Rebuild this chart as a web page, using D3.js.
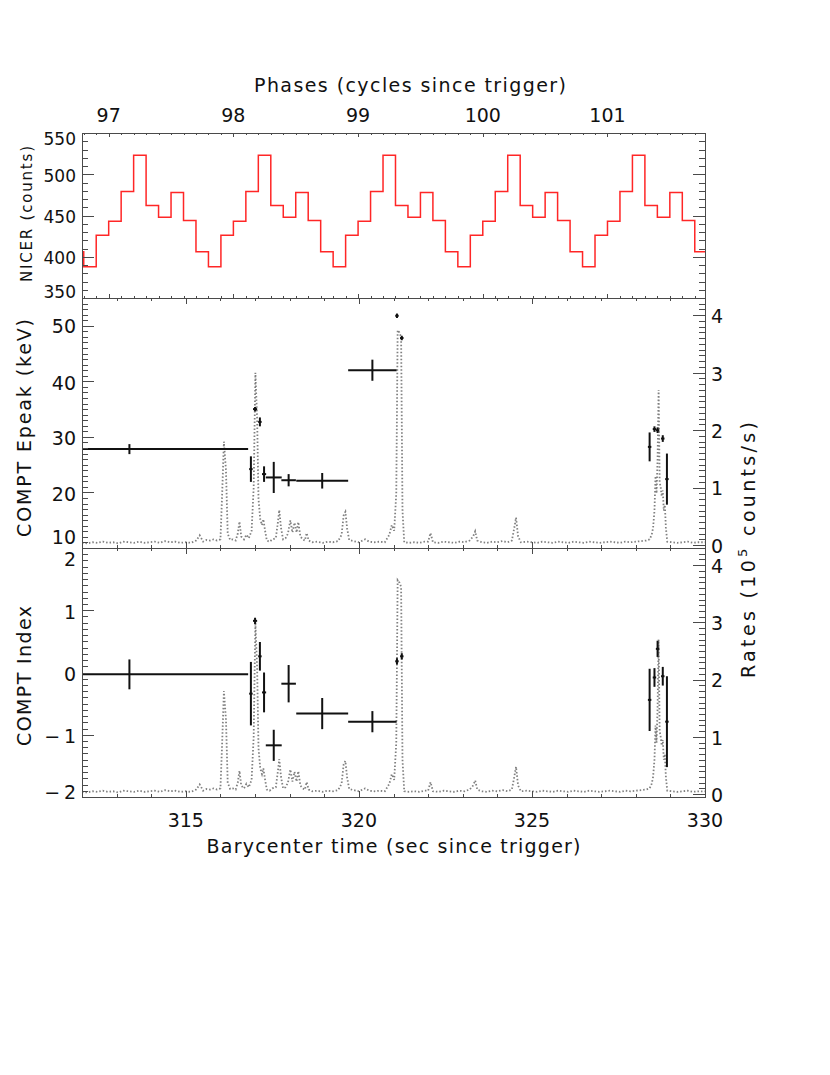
<!DOCTYPE html>
<html><head><meta charset="utf-8">
<script src="https://cdn.jsdelivr.net/npm/d3@7"></script>
<style>
body{margin:0;background:#fff}
text{font-family:"DejaVu Sans",sans-serif;fill:#111}
</style>
</head><body>
<svg id="c" width="830" height="1075"></svg>
<script>
// ---------------- data ----------------
const timeDomain = [312, 330];
const phaseDomain = [96.786, 101.782];
const timeLabels = [315, 320, 325, 330];
const phaseLabels = [97, 98, 99, 100, 101];
const nicerLabels = [550, 500, 450, 400, 350];
const epeakLabels = [50, 40, 30, 20, 10];
const indexLabels = [2, 1, 0, -1, -2];
const rateLabels = [4, 3, 2, 1, 0];

// NICER folded counts, bins of 0.1 cycle starting at phase 96.7
const nicerStart = 96.7;
const nicerCounts = [406,
  388, 426, 443, 479, 523, 462, 448, 478, 444, 406,
  388, 426, 443, 479, 523, 462, 448, 478, 444, 406,
  388, 426, 443, 479, 523, 462, 448, 478, 444, 406,
  388, 426, 443, 479, 523, 462, 448, 478, 444, 406,
  388, 426, 443, 479, 523, 462, 448, 478, 444, 406];

// spectral fit results
const specTime    = [313.37, 316.88, 317.00, 317.14, 317.26, 317.54, 317.97, 318.94, 320.39, 321.10, 321.24, 328.40, 328.54, 328.63, 328.78, 328.90];
const specTimeErr = [3.43, 0.05, 0.06, 0.05, 0.06, 0.23, 0.21, 0.75, 0.70, 0.05, 0.05, 0.05, 0.05, 0.05, 0.05, 0.05];
const epeak       = [27.8, 24.2, 35.0, 32.7, 23.3, 22.7, 22.2, 22.1, 42.0, 51.8, 47.8, 28.2, 31.4, 31.2, 29.7, 22.4];
const epeakErr    = [0.9, 2.3, 0.4, 0.8, 1.4, 2.8, 1.1, 1.4, 1.9, 0.4, 0.4, 2.6, 0.5, 0.5, 0.6, 4.6];
const index       = [-0.03, -0.34, 0.83, 0.26, -0.32, -1.17, -0.18, -0.66, -0.79, 0.18, 0.26, -0.44, -0.08, 0.38, -0.06, -0.79];
const indexErr    = [0.24, 0.51, 0.05, 0.23, 0.32, 0.25, 0.30, 0.25, 0.17, 0.05, 0.05, 0.50, 0.15, 0.13, 0.15, 0.73];

// light curve (10^5 counts/s)
const lcTime = [312.00,312.15,312.30,312.45,312.60,312.75,312.90,313.05,313.20,313.35,313.50,313.65,313.80,313.95,314.10,314.25,314.40,314.55,314.70,314.85,
 315.00,315.15,315.30,315.40,315.50,315.60,315.70,315.80,315.90,316.00,316.05,316.10,316.16,316.21,316.28,316.36,316.44,316.50,316.55,316.60,
 316.68,316.75,316.82,316.90,316.96,317.01,317.06,317.10,317.15,317.20,317.24,317.29,317.34,317.42,317.50,317.60,317.66,317.70,317.75,317.81,
 317.88,317.95,318.02,318.08,318.14,318.20,318.25,318.31,318.38,318.44,318.49,318.55,318.65,318.80,318.95,319.10,319.25,319.40,319.50,319.56,
 319.61,319.66,319.72,319.85,320.00,320.18,320.30,320.45,320.60,320.75,320.88,320.95,321.02,321.08,321.12,321.17,321.22,321.26,321.31,321.45,
 321.60,321.75,321.90,322.00,322.07,322.14,322.30,322.45,322.60,322.75,322.90,323.05,323.20,323.30,323.36,323.42,323.55,323.70,323.85,324.00,
 324.15,324.30,324.42,324.49,324.54,324.60,324.68,324.85,325.00,325.15,325.30,325.45,325.60,325.75,325.90,326.05,326.20,326.35,326.50,326.65,
 326.80,326.95,327.10,327.25,327.40,327.55,327.70,327.85,328.00,328.15,328.30,328.40,328.46,328.50,328.54,328.57,328.60,328.63,328.66,328.69,
 328.72,328.75,328.78,328.81,328.84,328.87,328.91,329.05,329.20,329.35,329.50,329.65,329.80,330.00];
const lcRate = [0.04,0.03,0.05,0.04,0.06,0.04,0.05,0.03,0.06,0.05,0.04,0.06,0.04,0.05,0.06,0.04,0.07,0.05,0.06,0.04,
 0.05,0.04,0.08,0.17,0.06,0.09,0.08,0.10,0.08,0.10,0.90,1.80,1.30,0.20,0.09,0.10,0.08,0.20,0.41,0.15,
 0.10,0.18,0.12,0.25,1.00,3.00,2.20,0.80,0.45,0.35,0.45,0.25,0.08,0.06,0.10,0.12,0.40,0.61,0.30,0.10,
 0.12,0.20,0.43,0.22,0.39,0.22,0.40,0.15,0.10,0.08,0.21,0.08,0.05,0.06,0.04,0.06,0.05,0.07,0.18,0.52,
 0.58,0.29,0.09,0.07,0.05,0.10,0.06,0.05,0.06,0.05,0.18,0.35,0.25,0.90,3.74,3.70,3.62,0.60,0.05,0.04,
 0.05,0.04,0.06,0.06,0.21,0.05,0.04,0.06,0.05,0.04,0.06,0.05,0.08,0.15,0.24,0.08,0.05,0.04,0.06,0.05,
 0.07,0.05,0.08,0.30,0.48,0.15,0.05,0.06,0.05,0.04,0.06,0.05,0.04,0.06,0.05,0.04,0.06,0.05,0.04,0.06,
 0.05,0.04,0.05,0.06,0.05,0.04,0.06,0.05,0.06,0.07,0.08,0.10,0.18,0.30,0.60,1.20,0.90,1.50,2.70,1.10,
 1.00,0.85,0.95,0.60,0.70,0.30,0.06,0.05,0.04,0.05,0.06,0.04,0.05,0.05];

// ---------------- drawing ----------------
const svg = d3.select("#c");
const L = 82, R = 705;
const top0 = 133, top1 = 298, mid1 = 548, bot1 = 797;

const x  = d3.scaleLinear().domain(timeDomain).range([L, R]);
const xp = d3.scaleLinear().domain(phaseDomain).range([L, R]);
const yN = d3.scaleLinear().domain([350, 550]).range([top1, top0]);
const yE = d3.scaleLinear().domain([10, 55]).range([mid1, top1]);
const yI = d3.scaleLinear().domain([-2, 2]).range([bot1, mid1]);
const yRm = d3.scaleLinear().domain([-0.05, 4.3]).range([mid1, top1]);
const yRb = d3.scaleLinear().domain([-0.05, 4.3]).range([bot1, mid1]);

const defs = svg.append("defs");
[["cTop", top0, top1], ["cMid", top1, mid1], ["cBot", mid1, bot1]].forEach(([id, a, b]) => {
  defs.append("clipPath").attr("id", id).append("rect")
    .attr("x", L).attr("y", a).attr("width", R - L).attr("height", b - a);
});

const AX = "#4a4a4a";
function tickSet(side, scale, values, len, pos) {
  const g = svg.append("g").attr("stroke", AX).attr("stroke-width", 1);
  g.selectAll("line").data(values).join("line").each(function (v) {
    const s = d3.select(this);
    const p = Math.round(scale(v)) + 0.5;
    if (side === "left")  s.attr("x1", L).attr("x2", L + len).attr("y1", p).attr("y2", p);
    if (side === "right") s.attr("x1", R).attr("x2", R - len).attr("y1", p).attr("y2", p);
    if (side === "top")   s.attr("y1", pos).attr("y2", pos + len).attr("x1", p).attr("x2", p);
    if (side === "bottom")s.attr("y1", pos).attr("y2", pos - len).attr("x1", p).attr("x2", p);
  });
}
const rng = (a, b, step) => d3.range(Math.round(a / step), Math.round(b / step) + 1).map(i => +(i * step).toFixed(4));

// ---- light curves (behind) ----
const lc = lcTime.map((t, i) => ({ t, r: lcRate[i] }));
[[yRm, "cMid"], [yRb, "cBot"]].forEach(([ys, clip]) => {
  svg.append("path").datum(lc).attr("clip-path", `url(#${clip})`)
    .attr("fill", "none").attr("stroke", "#808080").attr("stroke-width", 1.8)
    .attr("stroke-dasharray", "1.5,2")
    .attr("d", d3.line().x(d => x(d.t)).y(d => ys(d.r)));
});

// ---- NICER step curve ----
const steps = nicerCounts.map((c, i) => ({ p: nicerStart + i * 0.1, c }));
steps.push({ p: nicerStart + nicerCounts.length * 0.1, c: nicerCounts[nicerCounts.length - 1] });
svg.append("path").datum(steps).attr("clip-path", "url(#cTop)")
  .attr("fill", "none").attr("stroke", "#ff2626").attr("stroke-width", 1.5)
  .attr("d", d3.line().curve(d3.curveStepAfter).x(d => xp(d.p)).y(d => yN(d.c)));

// ---- error bars ----
function errBars(vals, errs, ys, clip) {
  const g = svg.append("g").attr("clip-path", `url(#${clip})`)
    .attr("stroke", "#111").attr("stroke-width", 2);
  const d = specTime.map((t, i) => ({ t, xe: specTimeErr[i], v: vals[i], e: errs[i] }));
  g.selectAll(".h").data(d).join("line")
    .attr("x1", p => x(p.t - p.xe)).attr("x2", p => x(p.t + p.xe))
    .attr("y1", p => ys(p.v)).attr("y2", p => ys(p.v));
  g.selectAll(".v").data(d).join("line")
    .attr("x1", p => x(p.t)).attr("x2", p => x(p.t))
    .attr("y1", p => ys(p.v - p.e)).attr("y2", p => ys(p.v + p.e));
}
errBars(epeak, epeakErr, yE, "cMid");
errBars(index, indexErr, yI, "cBot");

// ---- frames ----
[[top0, top1], [top1, mid1], [mid1, bot1]].forEach(([a, b]) => {
  svg.append("rect").attr("x", L + 0.5).attr("y", a + 0.5).attr("width", R - L).attr("height", b - a)
    .attr("fill", "none").attr("stroke", AX).attr("stroke-width", 1);
});

// ---- ticks ----
// top panel
tickSet("left", yN, rng(350, 550, 10), 6); tickSet("left", yN, rng(350, 550, 50), 12);
tickSet("right", yN, rng(350, 550, 10), 6); tickSet("right", yN, rng(350, 550, 50), 12);
const phMinor = rng(96.8, 101.7, 0.1), phMajor = phaseLabels;
tickSet("top", xp, phMinor, 2, top0); tickSet("top", xp, phMajor, 4, top0);
tickSet("bottom", xp, phMinor, 2, top1); tickSet("bottom", xp, phMajor, 4, top1);
// time ticks
const tMinor = rng(312, 330, 1), tMajor = timeLabels;
[[top1, "top"], [mid1, "bottom"], [mid1, "top"], [bot1, "bottom"]].forEach(([pos, side]) => {
  tickSet(side, x, tMinor, 3, pos); tickSet(side, x, tMajor, 6, pos);
});
// middle panel
tickSet("left", yE, rng(10, 55, 1), 6); tickSet("left", yE, rng(10, 50, 10), 12);
tickSet("right", yRm, rng(0, 4.3, 0.1), 6); tickSet("right", yRm, rng(0, 4, 1), 12);
// bottom panel
tickSet("left", yI, rng(-2, 2, 0.1), 6); tickSet("left", yI, rng(-2, 2, 1), 12);
tickSet("right", yRb, rng(0, 4.3, 0.1), 6); tickSet("right", yRb, rng(0, 4, 1), 12);

// ---- tick labels ----
const fmt = v => v < 0 ? "\u2212\u2009" + Math.abs(v) : String(v);
function yLabels(vals, scale, size, topShift, botShift) {
  svg.append("g").selectAll("text").data(vals).join("text")
    .attr("x", 76).attr("text-anchor", "end").attr("font-size", size)
    .attr("y", (v, i) => scale(v) + (i === 0 ? topShift : i === vals.length - 1 ? botShift : 1.5))
    .attr("dy", "0.36em").text(fmt);
}
yLabels(nicerLabels, yN, 17, 6, -6);
yLabels(epeakLabels, yE, 19, 0, -11);
yLabels(indexLabels, yI, 19, 11, -5);
[yRm, yRb].forEach(ys => {
  svg.append("g").selectAll("text").data(rateLabels).join("text")
    .attr("x", 711).attr("y", v => ys(v) + 1).attr("dy", "0.36em")
    .attr("font-size", 19).text(d => d);
});
svg.append("g").selectAll("text").data(timeLabels).join("text")
  .attr("x", d => x(d)).attr("y", 827).attr("text-anchor", "middle").attr("font-size", 19).text(d => d);
svg.append("g").selectAll("text").data(phaseLabels).join("text")
  .attr("x", d => xp(d)).attr("y", 122).attr("text-anchor", "middle").attr("font-size", 19).text(d => d);

// ---- axis titles ----
svg.append("text").attr("x", 410).attr("y", 92).attr("text-anchor", "middle").attr("font-size", 19)
  .attr("textLength", 312).text("Phases (cycles since trigger)");
svg.append("text").attr("x", 393.5).attr("y", 853).attr("text-anchor", "middle").attr("font-size", 19)
  .attr("textLength", 374).text("Barycenter time (sec since trigger)");
function vTitle(txt, cx, cy, size, len) {
  svg.append("text").attr("transform", `translate(${cx},${cy}) rotate(-90)`)
    .attr("text-anchor", "middle").attr("font-size", size).attr("textLength", len).text(txt);
}
vTitle("NICER (counts)", 32, 214, 15, 136);
vTitle("COMPT Epeak (keV)", 31, 428, 19, 218);
vTitle("COMPT Index", 31, 676, 19, 140);
const rt = svg.append("text").attr("transform", "translate(755,550) rotate(-90)")
  .attr("text-anchor", "middle").attr("font-size", 19).attr("textLength", 256);
rt.append("tspan").text("Rates (10");
rt.append("tspan").attr("font-size", 13).attr("dy", -8).text("5");
rt.append("tspan").attr("dy", 8).text(" counts/s)");
</script>
</body></html>
